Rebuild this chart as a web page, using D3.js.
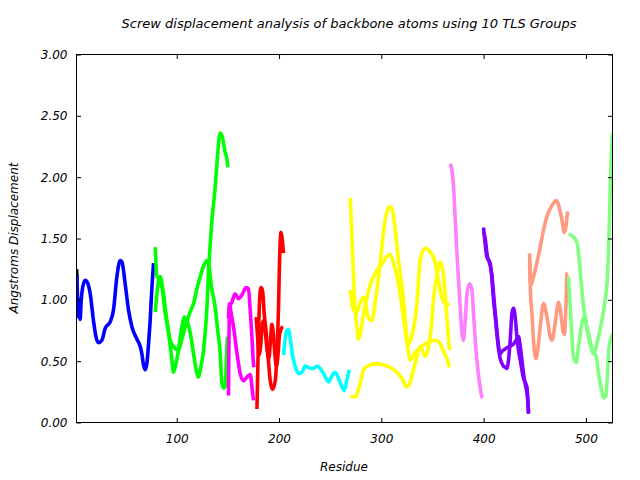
<!DOCTYPE html>
<html><head><meta charset="utf-8">
<script src="https://cdn.jsdelivr.net/npm/d3@7"></script>
<style>
body{margin:0;background:#fff;}
text{font-family:"DejaVu Sans",sans-serif;font-style:italic;font-size:12px;fill:#000;}
</style></head>
<body><svg id="c" width="640" height="480"></svg>
<script>
// ---- data: [residue, displacement] per curve, one or more curves per TLS group ----
const titleText = "Screw displacement analysis of backbone atoms using 10 TLS Groups";
const xLabel = "Residue";
const yLabel = "Angstroms Displacement";
const xTicks = [100, 200, 300, 400, 500];
const yTicks = [0, 0.5, 1.0, 1.5, 2.0, 2.5, 3.0];

const black1 = [[2,1.25],[2.6,1.17]];
const blue1 = [[2.4,1.2],[3.5,0.9],[4,0.86],[4.8,1.0],[5.6,0.84],[6.5,0.98],[8,1.1],[10.5,1.16],[12.2,1.15],[15.4,1.05],[18.6,0.83],[21,0.7],[23.5,0.65],[26.8,0.67],[30.1,0.77],[34.9,0.82],[38.2,0.92],[41.5,1.19],[44.7,1.32],[46.4,1.31],[49.6,1.13],[52.8,0.92],[56.2,0.78],[61,0.68],[64.3,0.62],[65.9,0.56],[67.5,0.47],[69.2,0.43],[70.8,0.48],[72.5,0.65],[74,0.83],[75.7,1.10],[77.3,1.30]];
const greenA = [[79,1.43],[80.6,1.19],[83,1.17],[85.5,1.11],[88.7,0.89],[92,0.73],[95.3,0.51],[96.8,0.41],[99,0.47],[101.7,0.59],[105,0.78],[107.6,0.86],[110,0.83],[113.2,0.73],[116.4,0.56],[119.7,0.40],[121.3,0.37],[123.5,0.45],[126.2,0.59],[129.5,0.94],[131,1.21],[134.4,1.65],[137.6,1.92],[139.3,2.11],[142.5,2.36],[144.5,2.33],[147.4,2.2],[149,2.15],[150,2.08]];
const greenB = [[79,0.90],[80.6,1.05],[83.8,1.19],[87,1.05],[90.4,0.83],[93.6,0.67],[96.8,0.62],[101.7,0.59],[105,0.68],[109,0.8],[113,0.9],[116.4,0.97],[120,1.1],[123,1.19],[126,1.27],[129.5,1.32],[131,1.30],[134,1.1],[137.6,0.94],[140,0.75],[142.5,0.56],[144,0.33],[146,0.28],[147.5,0.3],[148.5,0.5],[149.6,0.7]];
const magentaA = [[150.6,0.22],[151.6,0.94],[153.9,0.98],[157.1,1.05],[160.4,1.01],[163.7,1.04],[167.9,1.10],[170.1,1.09],[171.8,0.92],[173.5,0.70],[175,0.48],[175.5,0.45]];
const magentaB = [[150.6,0.85],[151.5,0.97],[153,0.9],[155.5,0.78],[158.8,0.57],[162,0.40],[165.3,0.34],[168.6,0.37],[171.8,0.39],[173.5,0.29],[175,0.18]];
const redA = [[178.4,0.11],[179,0.34],[180,0.73],[181,1.0],[182.3,1.10],[183.8,1.08],[185.5,0.89],[187.5,0.73],[189.1,0.56],[191.4,0.34],[193.6,0.27],[196.3,0.34],[197.9,0.56],[199.5,0.94],[200.5,1.32],[201.9,1.55],[202.9,1.51],[204.4,1.38]];
const redB = [[177.7,0.86],[179,0.70],[180.5,0.55],[182,0.62],[183.5,0.80],[185,0.83],[187,0.70],[188.5,0.58],[190,0.52],[191.5,0.65],[193,0.80],[194.5,0.72],[196,0.55],[197.5,0.46],[199,0.55],[200.5,0.72],[202.5,0.77],[204,0.78]];
const cyan1 = [[204.4,0.55],[206,0.68],[207.7,0.75],[209.5,0.76],[211,0.68],[213.8,0.52],[216,0.45],[219,0.40],[222.4,0.41],[225.6,0.46],[228.5,0.45],[231,0.44],[233.7,0.44],[237,0.46],[240.2,0.44],[243.5,0.40],[246,0.36],[248.4,0.33],[251.7,0.38],[254.9,0.41],[258.1,0.36],[261.5,0.29],[263.7,0.26],[266.3,0.35],[268.6,0.43]];
const yellowA = [[269.6,1.83],[271.2,1.54],[272.8,1.19],[274.5,0.92],[276.1,0.78],[277.7,0.68],[279.4,0.72],[282.6,0.88],[285.9,1.02],[289.1,1.12],[295.7,1.24],[302.1,1.31],[305,1.35],[308.7,1.37],[312,1.3],[318.4,1.05],[321.7,0.85],[325,0.66],[328.2,0.51],[331.5,0.55],[334.8,0.59],[339.7,0.62],[344.6,0.65],[352.7,0.67],[357.6,0.64],[360.8,0.58],[364.1,0.52],[366.6,0.45]];
const yellowB = [[269.6,1.08],[272.8,0.92],[276.1,0.90],[279.4,0.98],[282.6,1.02],[285,0.95],[287,0.86],[290.8,0.83],[293.5,0.95],[298.9,1.30],[302.5,1.58],[305.5,1.72],[308.7,1.76],[311.5,1.7],[316.8,1.32],[321.7,1.0],[325,0.70],[326.6,0.64],[329,0.68],[334.8,0.97],[338,1.32],[342.9,1.42],[347,1.40],[352.7,1.30],[356,1.15],[359.2,1.02],[364.1,0.96],[366.6,0.97]];
const yellowC = [[269.6,0.21],[274.5,0.21],[279.4,0.32],[282.6,0.43],[289.1,0.47],[295.7,0.48],[302.1,0.47],[308.7,0.45],[315.2,0.41],[320,0.36],[325,0.29],[328.2,0.33],[331.5,0.43],[334.8,0.54],[338,0.62],[342.9,0.54],[345.8,0.6],[348.8,0.78],[351,1.0],[354.3,1.2],[357.6,1.31],[360.8,1.2],[364.1,0.85],[366.6,0.59]];
const pink1 = [[367.4,2.11],[368.5,2.08],[370.6,1.92],[372.3,1.65],[373.9,1.38],[375.5,1.16],[377.1,0.94],[378.8,0.73],[380.3,0.67],[382,0.83],[383.7,1.05],[386.2,1.13],[388.6,1.08],[390.1,0.89],[391.8,0.67],[393.4,0.51],[396,0.32],[398.3,0.21],[399.3,0.20]];
const purpleA = [[399.9,1.59],[401.6,1.45],[403.2,1.35],[406.4,1.30],[408.1,1.17],[409.7,1.0],[411.3,0.87],[413,0.72],[414.6,0.6],[416.2,0.52],[419.4,0.46],[421.1,0.45],[422.8,0.44],[424.5,0.52],[426,0.67],[427.7,0.89],[429.2,0.93],[431,0.85],[432.5,0.70],[434.1,0.59],[435.8,0.51],[439,0.36],[442.3,0.29],[443.9,0.07]];
const purpleB = [[399.9,1.55],[401.6,1.5],[403.2,1.38],[406.4,1.28],[408.1,1.2],[409.7,1.05],[411.3,0.9],[413,0.75],[414.6,0.62],[416.2,0.56],[418,0.58],[421.1,0.60],[425,0.62],[429.2,0.64],[432.5,0.68],[434.1,0.70],[435.8,0.62],[439,0.40],[441,0.30],[443,0.2],[443.9,0.08]];
const salmonA = [[444.9,1.38],[446.2,1.12],[448.8,1.19],[452,1.30],[455.3,1.43],[458.6,1.57],[461.9,1.68],[466.8,1.77],[471,1.81],[474.3,1.74],[476.6,1.65],[478.8,1.55],[480.5,1.60],[482,1.72]];
const salmonB = [[444.9,1.30],[446.2,1.0],[447.2,0.89],[448.8,0.67],[451.1,0.52],[453,0.6],[456,0.83],[458.6,0.97],[461.9,0.86],[465.1,0.70],[466.8,0.67],[470,0.81],[473.3,0.98],[475,0.92],[477.5,0.75],[479,0.72],[480.5,0.95],[481.4,1.21],[482,1.22]];
const lightGreenA = [[483,1.53],[485,1.53],[487.9,1.51],[491.2,1.47],[492.8,1.38],[494.4,1.24],[496.1,1.08],[497.7,0.94],[499.3,0.86],[502.5,0.70],[505.8,0.59],[509.1,0.56],[510.7,0.51],[512.3,0.40],[515.6,0.26],[517.2,0.20],[519.5,0.22],[521.1,0.40],[522.4,0.60],[526,0.72]];
const lightGreenB = [[483,1.19],[484.7,0.94],[486.3,0.70],[487.9,0.53],[490.5,0.49],[492.8,0.62],[496.1,0.81],[498.4,0.87],[501,0.78],[504.2,0.67],[507.4,0.56],[510,0.62],[512.3,0.70],[515.6,0.83],[518.8,1.0],[521.1,1.19],[523,1.65],[524.4,2.06],[526,2.36]];

const groupCurves = [[black1],[blue1],[greenA,greenB],[magentaA,magentaB],[redA,redB],[cyan1],[yellowA,yellowB,yellowC],[pink1],[purpleA,purpleB],[salmonA,salmonB],[lightGreenA,lightGreenB]];
const groupColors = ["#000000","#0000ff","#00ff00","#ff00ff","#ff0000","#00ffff","#ffff00","#ff80ff","#8000ff","#ff9980","#80ff80"];

// ---- drawing ----
const svg = d3.select("#c");
const L = 76.5, R = 612.5, T = 54.5, B = 422.5;
const x = d3.scaleLinear().domain([2, 526]).range([L, R]);
const y = d3.scaleLinear().domain([0, 3]).range([B, T]);

svg.append("defs").append("clipPath").attr("id","clip")
  .append("rect").attr("x",L).attr("y",T).attr("width",R-L).attr("height",B-T);

const line = d3.line().x(d => x(d[0])).y(d => y(d[1])).curve(d3.curveMonotoneX);
const plot = svg.append("g").attr("clip-path","url(#clip)");
groupCurves.forEach((curves, gi) => {
  curves.forEach(c => {
    plot.append("path").attr("d", line(c)).attr("fill","none")
      .attr("stroke", groupColors[gi]).attr("stroke-width", 3.6)
      .attr("stroke-linejoin","round").attr("stroke-linecap","butt");
  });
});

function styleAxis(g){ g.select(".domain").remove(); g.selectAll("line").attr("stroke","#000"); g.selectAll("text").attr("font-family",null).attr("font-size",null); }
svg.append("g").attr("transform",`translate(${L},0)`)
  .call(d3.axisLeft(y).tickValues(yTicks).tickFormat(d3.format(".2f")).tickSize(-4.5).tickPadding(9)).call(styleAxis);
svg.append("g").attr("transform",`translate(${R},0)`)
  .call(d3.axisRight(y).tickValues(yTicks).tickFormat("").tickSize(-4.5)).call(styleAxis);
svg.append("g").attr("transform",`translate(0,${B})`)
  .call(d3.axisBottom(x).tickValues(xTicks).tickFormat(d3.format("d")).tickSize(-4.5).tickPadding(12)).call(styleAxis);
svg.append("g").attr("transform",`translate(0,${T})`)
  .call(d3.axisTop(x).tickValues(xTicks).tickFormat("").tickSize(-4.5)).call(styleAxis);

svg.append("rect").attr("x",L).attr("y",T).attr("width",R-L).attr("height",B-T)
  .attr("fill","none").attr("stroke","#000").attr("stroke-width",1);

svg.append("text").attr("x",349).attr("y",28).attr("text-anchor","middle").style("font-size","13px").text(titleText);
svg.append("text").attr("x",344).attr("y",471).attr("text-anchor","middle").text(xLabel);
svg.append("text").attr("transform","translate(18,238) rotate(-90)").attr("text-anchor","middle").text(yLabel);
</script></body></html>
